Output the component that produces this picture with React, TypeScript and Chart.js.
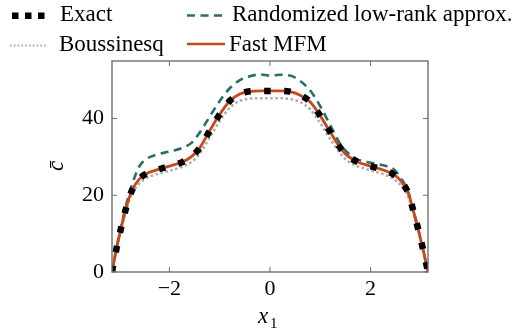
import React, { useEffect, useRef } from 'react';
import { Chart, registerables } from 'chart.js';

Chart.register(...registerables);

const xGrid = [-3.1416, -3.05, -2.95, -2.85, -2.75, -2.6, -2.45, -2.25, -2.0, -1.75, -1.55, -1.4, -1.2, -1.0, -0.8, -0.6, -0.4, -0.2, 0, 0.2, 0.4, 0.6, 0.8, 1.0, 1.2, 1.4, 1.55, 1.75, 2.0, 2.25, 2.45, 2.6, 2.75, 2.85, 2.95, 3.05, 3.1416];

const exactValues = [0, 6.2, 12.1, 17.2, 21.1, 24.2, 25.7, 26.6, 27.6, 28.6, 30.2, 32.3, 36.8, 41.1, 44.6, 46.4, 47.1, 47.2, 47.2, 47.2, 47.0, 46.1, 44.3, 40.7, 36.4, 32.3, 30.2, 28.6, 27.6, 26.6, 25.5, 23.8, 20.5, 16.0, 11.0, 5.5, 0];
const randomizedValues = [0, 6.5, 12.5, 18.0, 22.5, 27.5, 29.5, 30.6, 31.4, 32.3, 33.8, 36.3, 40.5, 44.6, 47.9, 50.0, 51.0, 51.5, 51.2, 51.4, 51.2, 49.8, 47.3, 43.2, 38.2, 33.3, 31.0, 29.3, 28.5, 27.8, 26.9, 24.5, 20.8, 16.0, 11.0, 5.5, 0];
const boussinesqValues = [0, 6.0, 11.5, 16.5, 20.3, 23.0, 24.5, 25.5, 26.4, 27.4, 28.8, 30.8, 35.0, 39.3, 42.8, 44.6, 45.2, 45.3, 45.3, 45.3, 45.1, 44.3, 42.4, 38.8, 34.6, 30.8, 28.9, 27.5, 26.5, 25.5, 24.3, 22.6, 19.5, 15.3, 10.5, 5.3, 0];
const fastMfmValues = [0, 6.2, 12.1, 17.2, 21.1, 24.2, 25.7, 26.6, 27.6, 28.6, 30.2, 32.3, 36.8, 41.1, 44.6, 46.4, 47.1, 47.2, 47.2, 47.2, 47.0, 46.1, 44.3, 40.7, 36.4, 32.3, 30.2, 28.6, 27.6, 26.6, 25.5, 23.8, 20.5, 16.0, 11.0, 5.5, 0];

const xTickValues = [-2, 0, 2];
const yTickValues = [0, 20, 40];
const seriesNames = ['Exact', 'Randomized low-rank approx.', 'Boussinesq', 'Fast MFM'];

const C_EXACT = '#000000';
const C_RAND = '#2a6e6c';
const C_BOUS = '#acacac';
const C_FAST = '#c4491d';
const FAMILY = 'Liberation Serif';
const FONT = `"${FAMILY}", serif`;

const toPoints = (ys: number[]) => xGrid.map((x, i) => ({ x, y: ys[i] }));

const decorPlugin = {
  id: 'decor',
  afterDraw(chart: any) {
    const { ctx, chartArea: a, scales } = chart;
    ctx.save();
    ctx.strokeStyle = '#707070';
    ctx.lineWidth = 1.4;
    ctx.strokeRect(a.left, a.top, a.right - a.left, a.bottom - a.top);
    const tl = 5;
    ctx.beginPath();
    xTickValues.forEach((v) => {
      const px = scales.x.getPixelForValue(v);
      ctx.moveTo(px, a.bottom); ctx.lineTo(px, a.bottom - tl);
      ctx.moveTo(px, a.top); ctx.lineTo(px, a.top + tl);
    });
    yTickValues.forEach((v) => {
      const py = scales.y.getPixelForValue(v);
      ctx.moveTo(a.left, py); ctx.lineTo(a.left + tl, py);
      ctx.moveTo(a.right, py); ctx.lineTo(a.right - tl, py);
    });
    ctx.lineWidth = 1;
    ctx.stroke();

    ctx.fillStyle = '#000';
    ctx.textBaseline = 'alphabetic';
    ctx.textAlign = 'left';
    ctx.font = `italic 23px ${FONT}`;
    ctx.fillText('x', 258, 323);
    ctx.font = `15px ${FONT}`;
    ctx.fillText('1', 270, 328);

    ctx.save();
    ctx.translate(63, 166);
    ctx.rotate(-Math.PI / 2);
    ctx.textAlign = 'center';
    ctx.font = `italic 23px ${FONT}`;
    ctx.fillText('c\u0304', 0, 0);
    ctx.restore();

    ctx.font = `23px ${FONT}`;
    ctx.textAlign = 'left';
    ctx.fillStyle = C_EXACT;
    [12, 25, 38].forEach((x) => ctx.fillRect(x, 12.5, 6.5, 6.5));
    ctx.fillStyle = '#000';
    ctx.fillText(seriesNames[0], 60, 21);
    ctx.strokeStyle = C_RAND;
    ctx.lineWidth = 2.6;
    ctx.setLineDash([8, 5.5]);
    ctx.beginPath(); ctx.moveTo(187, 15.5); ctx.lineTo(222, 15.5); ctx.stroke();
    ctx.fillText(seriesNames[1], 232, 21);
    ctx.strokeStyle = C_BOUS;
    ctx.lineWidth = 2;
    ctx.setLineDash([1.6, 2.2]);
    ctx.beginPath(); ctx.moveTo(10, 45.5); ctx.lineTo(47, 45.5); ctx.stroke();
    ctx.fillText(seriesNames[2], 59, 51);
    ctx.setLineDash([]);
    ctx.strokeStyle = C_FAST;
    ctx.lineWidth = 2.6;
    ctx.beginPath(); ctx.moveTo(187, 44); ctx.lineTo(225, 44); ctx.stroke();
    ctx.fillText(seriesNames[3], 229, 51);
    ctx.restore();
  },
};

export default function App() {
  const ref = useRef<HTMLCanvasElement | null>(null);
  useEffect(() => {
    let chart: any = null;
    let cancelled = false;
    const build = () => {
      if (cancelled || !ref.current) return;
      chart = new Chart(ref.current, {
        type: 'line',
        data: {
          datasets: [
            {
              label: seriesNames[0],
              data: toPoints(exactValues),
              borderColor: C_EXACT,
              borderWidth: 6.5,
              borderDash: [6.5, 13.5],
              borderCapStyle: 'butt',
              pointRadius: 0,
              cubicInterpolationMode: 'monotone',
              fill: false,
            },
            {
              label: seriesNames[3],
              data: toPoints(fastMfmValues),
              borderColor: C_FAST,
              borderWidth: 2.8,
              pointRadius: 0,
              cubicInterpolationMode: 'monotone',
              fill: false,
            },
            {
              label: seriesNames[2],
              data: toPoints(boussinesqValues),
              borderColor: C_BOUS,
              borderWidth: 2.5,
              borderDash: [2.5, 2.6],
              pointRadius: 0,
              cubicInterpolationMode: 'monotone',
              fill: false,
            },
            {
              label: seriesNames[1],
              data: toPoints(randomizedValues),
              borderColor: C_RAND,
              borderWidth: 2.6,
              borderDash: [8, 5.5],
              pointRadius: 0,
              cubicInterpolationMode: 'monotone',
              fill: false,
            },
          ],
        },
        options: {
          animation: false,
          responsive: false,
          maintainAspectRatio: false,
          layout: { padding: { left: 0, right: 98, top: 61, bottom: 0 } },
          plugins: { legend: { display: false }, tooltip: { enabled: false } },
          scales: {
            x: {
              type: 'linear',
              min: -Math.PI,
              max: Math.PI,
              afterBuildTicks: (s: any) => { s.ticks = xTickValues.map((v) => ({ value: v })); },
              afterFit: (s: any) => { s.height = 62; },
              grid: { display: false, drawTicks: false },
              border: { display: false },
              ticks: {
                font: { family: FONT, size: 22 },
                color: '#000',
                padding: 4,
                maxRotation: 0,
                autoSkip: false,
                callback: (v: any) => (v < 0 ? '\u2212' + Math.abs(v) : String(v)),
              },
            },
            y: {
              type: 'linear',
              min: 0,
              max: 55,
              afterBuildTicks: (s: any) => { s.ticks = yTickValues.map((v) => ({ value: v })); },
              afterFit: (s: any) => { s.width = 112; },
              grid: { display: false, drawTicks: false },
              border: { display: false },
              ticks: {
                font: { family: FONT, size: 22 },
                color: '#000',
                padding: 8,
                autoSkip: false,
                callback: (v: any) => String(v),
              },
            },
          },
        },
        plugins: [decorPlugin],
      } as any);
    };
    const fonts: any = (document as any).fonts;
    if (fonts && fonts.load) {
      Promise.all([
        fonts.load(`22px "${FAMILY}"`),
        fonts.load(`italic 22px "${FAMILY}"`),
      ]).then(build, build);
    } else {
      build();
    }
    return () => {
      cancelled = true;
      if (chart) chart.destroy();
    };
  }, []);
  return (
    <div style={{ position: 'fixed', left: 0, top: 0, width: 526, height: 334, background: '#fff' }}>
      <canvas ref={ref} width={526} height={334} style={{ display: 'block', width: 526, height: 334 }} />
    </div>
  );
}
